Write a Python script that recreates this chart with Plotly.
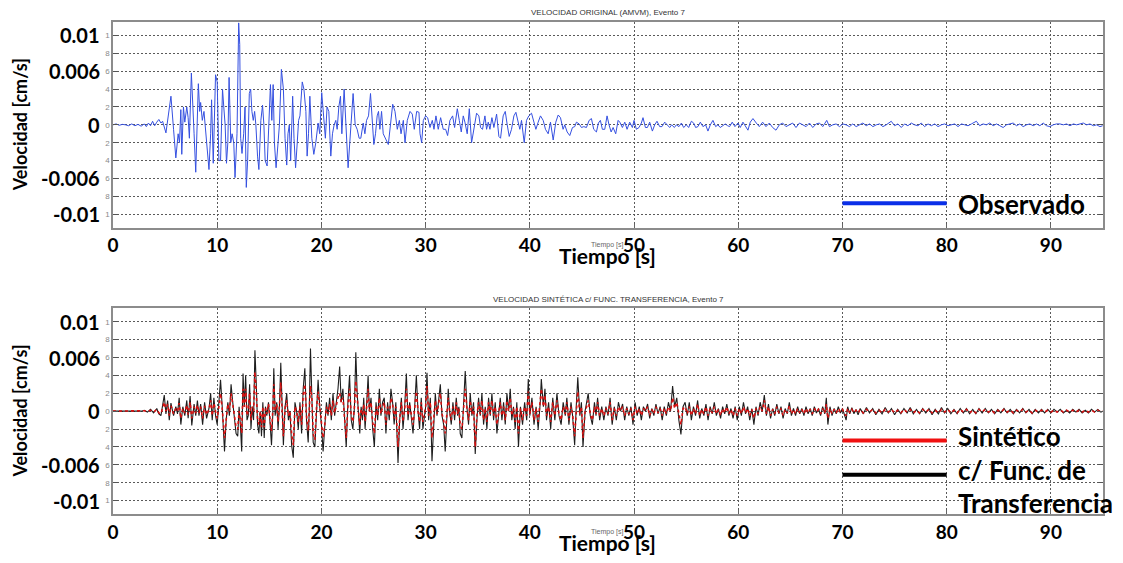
import plotly.graph_objects as go

# ---------------- data (velocity values in units of 1e-3 cm/s) ----------------
SCALE = 1e-3

t_obs = [0.0, 0.3, 0.6, 0.9, 1.2, 1.5, 1.8, 2.1, 2.4, 2.7, 3.0, 3.2, 3.4, 3.6, 3.8, 4.0, 4.2, 4.4, 4.6,
         4.76, 5.08, 5.56, 5.81, 6.03, 6.25, 6.38, 6.51, 6.60, 6.76, 6.89, 7.08, 7.21, 7.33, 7.52, 7.78, 7.94,
         8.19, 8.32, 8.41, 8.57, 8.73, 8.98, 9.21, 9.37, 9.46, 9.62, 9.84, 10.0, 10.06, 10.16, 10.32, 10.51,
         10.63, 10.76, 10.89, 11.02, 11.14, 11.30, 11.43, 11.59, 11.71, 11.90, 12.06, 12.16, 12.25, 12.38,
         12.54, 12.67, 12.79, 12.92, 13.08, 13.21, 13.33, 13.46, 13.59, 13.71, 13.87, 14.0, 14.19, 14.35,
         14.48, 14.60, 14.79, 14.98, 15.11, 15.24, 15.37, 15.49, 15.65, 15.84, 15.97, 16.16, 16.35, 16.51,
         16.67, 16.79, 16.92, 17.05, 17.24, 17.37, 17.52, 17.68, 17.81, 17.94, 18.16, 18.32, 18.51, 18.63,
         18.76, 18.89, 19.08, 19.27, 19.46, 19.68, 19.84,
         20.03, 20.22, 20.38, 20.54, 20.71, 20.90, 21.06, 21.22, 21.38, 21.51, 21.67, 21.83, 21.96, 22.18,
         22.34, 22.56, 22.72, 22.88, 23.04, 23.24, 23.43, 23.62, 23.78, 24.01, 24.17, 24.33, 24.52, 24.71,
         24.87, 25.03, 25.19, 25.35, 25.48, 25.61, 25.77, 25.93,
         26.42, 26.65, 26.84, 27.06, 27.28, 27.48, 27.64, 27.86, 28.02, 28.24, 28.50, 28.72, 28.91, 29.14,
         29.36, 29.46, 29.62, 29.78, 30.0, 30.19, 30.42, 30.64, 30.80, 30.99, 31.21, 31.44, 31.69, 31.92,
         32.11, 32.33, 32.59, 32.78, 33.04, 33.23, 33.42, 33.61, 33.77, 33.99, 34.19, 34.41, 34.63, 34.89,
         35.11, 35.27, 35.46, 35.69, 35.85, 36.01, 36.17, 36.36, 36.55, 36.81, 37.03, 37.19, 37.44, 37.64,
         37.83, 38.02, 38.24, 38.47, 38.66, 38.85, 39.04, 39.20, 39.46, 39.68, 39.90, 40.16, 40.38, 40.58,
         40.80, 41.02, 41.28, 41.50, 41.76, 41.98, 42.24, 42.49, 42.72, 42.94, 43.19, 43.35, 43.58, 43.83,
         44.09, 44.31, 44.47, 44.73, 44.95, 45.18, 45.43, 45.69, 45.91, 46.13, 46.39, 46.58, 46.77, 46.96,
         47.19, 47.41, 47.60, 47.80, 47.99, 48.24, 48.47, 48.63, 48.88, 49.11, 49.33, 49.58, 49.84, 50.0,
         50.22, 50.48, 50.70, 50.86, 51.09, 51.28, 51.50, 51.76, 51.98, 52.20, 52.46, 52.68, 52.94, 53.16,
         53.42, 53.61, 53.87, 54.06, 54.31, 54.54, 54.76, 55.02, 55.24, 55.50, 55.72, 55.91, 56.13, 56.36,
         56.61, 56.87, 57.09, 57.32, 57.57, 57.83, 58.05, 58.27, 58.53, 58.75, 58.98, 59.17, 59.42, 59.68,
         59.97, 60.19, 60.45, 60.70, 60.93, 61.15, 61.41, 61.73,
         62.02, 62.34, 62.66, 62.98, 63.30, 63.62, 63.94, 64.26, 64.58, 64.90, 65.22, 65.54, 65.87, 66.19,
         66.51, 66.83, 67.15, 67.47, 67.79, 68.11, 68.49, 68.75, 69.07, 69.39, 69.71,
         70.03, 70.35, 70.67, 70.99, 71.31, 71.63, 71.96, 72.28, 72.60, 72.92, 73.24, 73.56, 73.88, 74.20,
         74.68, 75.0, 75.32, 75.64, 75.96, 76.28, 76.60, 76.92, 77.24, 77.56, 77.88, 78.21, 78.53, 78.85,
         79.17, 79.49, 79.81, 80.13, 80.45, 80.77, 81.09, 81.41, 81.73, 82.05, 82.37, 82.85, 83.17, 83.49,
         83.81, 84.13, 84.46, 84.78, 85.10, 85.42, 85.74, 86.06, 86.38, 86.70, 87.02, 87.34, 87.66, 87.98,
         88.30, 88.62, 88.94, 89.26, 89.58, 89.90, 90.22, 90.54, 90.87, 91.19, 91.51, 91.83, 92.15, 92.47,
         92.79, 93.11, 93.43, 93.75, 94.07, 94.39, 94.71, 94.97]

v_obs = [0.0, 0.1, -0.05, 0.05, 0.0, -0.1, 0.1, -0.1, 0.05, -0.15, 0.1, -0.2, 0.2, -0.1, 0.4, -0.1, 0.3, 0.6, 0.2,
         0.4, -0.9, 3.2, -0.5, -3.7, -1.0, -2.0, 1.7, -3.3, 2.0, 0.3, 2.0, 0.8, -1.5, 5.8, -1.0, -5.3,
         4.6, 1.5, 2.5, 0.5, 1.5, -2.0, -5.0, -1.0, 2.8, -4.3, 5.6, 4.8, 2.0, -4.0, -4.0, 4.0,
         2.0, 0.0, -4.3, -2.0, 5.3, -2.0, -1.0, -2.0, -5.9, -1.0, 11.4, 9.0, -1.5, -3.2,
         -1.0, 2.0, -7.0, -4.0, 3.5, 4.0, 1.5, 0.5, 1.5, 0.0, -3.5, -5.0, 0.5, 2.2,
         0.0, -4.0, -4.6, 1.0, 4.5, 0.5, 4.5, -2.0, -4.8, -2.0, 0.0, 6.2, 4.0, -1.5,
         -4.5, -1.0, 0.0, -4.0, 3.2, -1.5, -4.8, -2.0, 0.5, 1.0, 4.8, 4.0, 1.5, -3.5,
         -1.0, 3.2, -1.5, -3.3, -2.0, 0.2, -1.0,
         3.6, 1.0, -1.5, 2.0, 1.5, -3.5, -1.0, 0.0, 0.5, -0.5, 2.0, 3.2, -1.0, 4.0,
         0.5, -4.8, -2.0, 1.0, 3.5, 0.0, -0.5, -1.5, -1.5, 0.2, -1.0, 0.5, 1.0, 3.5,
         1.0, -2.2, -1.0, 1.0, 1.5, -0.5, 1.5, -1.0,
         -2.2, 0.5, 2.3, 1.5, -0.5, 0.5, -1.0, 0.5, -2.0, 0.5, 1.5, 1.2, -0.5, 1.5,
         1.4, -1.0, -2.0, 0.5, 1.0, 0.8, -0.3, 0.5, -0.5, 1.0, -0.5, 0.8, -0.5, -0.5,
         -1.2, 0.5, 1.0, -0.3, 1.8, 0.5, -0.8, 1.0, 0.3, -1.0, 1.8, -2.0, -0.5, 1.3,
         1.0, -0.3, -0.5, 1.0, -0.5, 0.3, -0.5, 0.8, -0.3, 1.2, -1.3, -1.5, 1.0, 1.5,
         0.0, -1.3, -0.5, 1.0, 1.4, 0.3, -0.5, 0.5, -2.0, 0.5, 1.0, 1.3, 0.3, -0.5,
         0.3, 1.0, 0.5, -0.5, -1.0, 0.3, -1.7, 0.3, 1.1, 0.8, -0.5, 0.0, -0.8, -1.2,
         -0.3, -0.2, 0.3, 0.1, -0.3, -0.2, -0.3, 0.5, 0.7, -0.5, -0.8, 0.2, 0.5, -0.5,
         -0.5, 1.0, 0.0, -0.8, -0.3, -1.0, 0.5, 0.3, -0.3, 0.3, -0.5, 0.3, -0.3, 0.5,
         -0.5, -0.3, 0.2, 0.8, -0.3, -0.3, 0.3, -0.7, 0.0, 0.4, -0.2, -0.2, 0.3, 0.0,
         -0.3, 0.0, -0.3, 0.0, -0.2, 0.2, -0.3, 0.0, -0.3, 0.4, 0.2, -0.3, -0.2, 0.3,
         -0.2, 0.0, -0.7, 0.0, 0.5, -0.2, 0.0, -0.3, -0.1, 0.1, -0.1, -0.2, 0.3, -0.2,
         0.2, -0.3, 0.3, -0.2, -0.6, 0.3, 0.7, 0.2,
         -0.2, 0.3, -0.2, 0.2, -0.3, -0.6, 0.0, 0.2, -0.2, 0.0, 0.2, -0.3, 0.2, 0.0,
         -0.2, 0.2, -0.3, 0.1, 0.2, -0.2, 0.5, -0.2, 0.0, 0.1, -0.2,
         0.1, 0.0, -0.2, 0.1, -0.2, 0.0, 0.2, -0.1, 0.1, -0.2, 0.0, 0.1, -0.2, 0.0,
         0.4, -0.1, 0.1, -0.3, 0.1, -0.1, 0.2, 0.0, -0.1, 0.2, -0.2, 0.1, -0.1, 0.1,
         -0.2, 0.0, 0.1, -0.1, 0.0, 0.1, -0.2, 0.1, 0.0, -0.1, 0.1, 0.4, -0.1, 0.1,
         0.0, 0.2, -0.1, 0.1, -0.1, -0.3, 0.0, 0.1, 0.2, -0.1, 0.1, -0.2, 0.0, 0.1,
         -0.1, 0.1, -0.1, 0.2, -0.1, -0.2, 0.0, 0.1, 0.1, 0.0, 0.1, -0.1, 0.1, 0.0,
         0.1, 0.2, 0.0, 0.1, -0.1, 0.0, -0.2, -0.1]

t_syn = [0, 1, 2, 2.7, 3.0, 3.3, 3.6, 3.9, 4.2, 4.4,
         4.60, 4.92, 5.08, 5.24, 5.40, 5.56, 5.81, 6.03, 6.19, 6.35,
         6.51, 6.70, 6.89, 7.08, 7.21, 7.40, 7.56, 7.78, 7.94, 8.10,
         8.25, 8.41, 8.60, 8.79, 8.98, 9.21, 9.37, 9.52, 9.68, 9.84,
         10.0, 10.16, 10.32, 10.48, 10.70, 10.86, 11.02, 11.17, 11.33, 11.49,
         11.65, 11.81, 11.97, 12.10, 12.22, 12.35, 12.48, 12.60, 12.73, 12.86,
         12.98, 13.11, 13.24, 13.37, 13.49, 13.62, 13.75, 13.87, 14.0, 14.13,
         14.25, 14.38, 14.51, 14.63, 14.76, 14.92, 15.08, 15.21, 15.33, 15.43,
         15.56, 15.71, 15.84, 15.97, 16.10, 16.22, 16.35, 16.51, 16.67, 16.83,
         16.98, 17.14, 17.30, 17.46, 17.62, 17.78, 17.94, 18.10, 18.25, 18.41,
         18.57, 18.73, 18.83, 18.95, 19.08, 19.21, 19.37, 19.52, 19.68, 19.84,
         20.0, 20.16, 20.32, 20.48, 20.63, 20.79, 20.95, 21.11, 21.27, 21.43,
         21.59, 21.75, 21.90, 22.06, 22.22, 22.38, 22.54, 22.70, 22.86, 23.02,
         23.17, 23.30, 23.43, 23.56, 23.68, 23.81, 23.94, 24.06, 24.19, 24.35,
         24.48, 24.60, 24.76, 24.92, 25.08, 25.24, 25.40, 25.56, 25.71, 25.87,
         26.03, 26.19, 26.35, 26.51, 26.67, 26.83, 26.98, 27.14, 27.35, 27.51,
         27.67, 27.83, 27.99, 28.15, 28.31, 28.47, 28.63, 28.79, 28.95, 29.11,
         29.27, 29.42, 29.58, 29.74, 30.0, 30.13, 30.29, 30.45, 30.61, 30.77,
         30.93, 31.09, 31.25, 31.41, 31.57, 31.73, 31.88, 32.04, 32.17, 32.30,
         32.46, 32.62, 32.78, 32.94, 33.07, 33.19, 33.32, 33.48, 33.64, 33.80,
         33.96, 34.12, 34.28, 34.44, 34.60, 34.76, 34.92, 35.08, 35.24, 35.40,
         35.56, 35.72, 35.88, 36.04, 36.20, 36.36, 36.52, 36.68, 36.84, 37.0,
         37.16, 37.32, 37.48, 37.64, 37.80, 37.96, 38.12, 38.27, 38.43, 38.59,
         38.75, 38.91, 39.1, 39.3, 39.5, 39.7, 39.85, 40.0, 40.2, 40.4,
         40.6, 40.8, 41.0, 41.1, 41.3, 41.45, 41.6, 41.8, 42.0, 42.2,
         42.4, 42.6, 42.8, 43.0, 43.2, 43.4, 43.55, 43.75, 43.95, 44.1,
         44.3, 44.45, 44.6, 44.8, 44.95, 45.1, 45.3, 45.45, 45.6, 45.8,
         46.0, 46.2, 46.35, 46.5, 46.7, 46.9, 47.1, 47.3, 47.5, 47.7,
         47.9, 48.1, 48.3, 48.5, 48.7, 48.9, 49.1, 49.3, 49.5, 49.7,
         49.9, 50.1, 50.3, 50.5, 50.7, 50.9, 51.1, 51.3, 51.5, 51.7,
         51.9, 52.1, 52.3, 52.5, 52.7, 52.9, 53.1, 53.3, 53.5, 53.7,
         53.9, 54.1, 54.3, 54.5, 54.7, 54.9, 55.1, 55.3, 55.5, 55.7,
         55.9, 56.1, 56.3, 56.5, 56.7, 56.9, 57.1, 57.3, 57.5, 57.7,
         57.9, 58.1, 58.3, 58.5, 58.7, 58.9, 59.1, 59.3, 59.5, 59.7,
         59.9, 60.1, 60.3, 60.5, 60.7, 60.9, 61.1, 61.3, 61.5, 61.7,
         61.9, 62.1, 62.3, 62.5, 62.7, 62.9, 63.1, 63.3, 63.5, 63.7,
         63.9, 64.1, 64.3, 64.5, 64.7, 64.9, 65.1, 65.3, 65.5, 65.7,
         65.9, 66.1, 66.3, 66.5, 66.7, 66.9, 67.1, 67.3, 67.5, 67.7,
         67.9, 68.1, 68.3, 68.45, 68.6, 68.8, 69.0, 69.2, 69.4, 69.6,
         69.8, 70.0, 70.2, 70.35, 70.5, 70.7, 70.9, 71.1, 71.3, 71.5,
         71.7, 72.0, 72.3, 72.6, 72.9, 73.2, 73.5, 73.8, 74.1, 74.4,
         74.7, 75.0, 75.3, 75.6, 75.9, 76.2, 76.5, 76.8, 77.1, 77.4,
         77.7, 78.0, 78.3, 78.6, 78.9, 79.2, 79.5, 79.8, 80.1, 80.4,
         80.7, 81.0, 81.3, 81.6, 81.9, 82.2, 82.5, 82.8, 83.1, 83.4,
         83.7, 84.0, 84.3, 84.6, 84.9, 85.2, 85.5, 85.8, 86.1, 86.4,
         86.7, 87.0, 87.3, 87.6, 87.9, 88.2, 88.5, 88.8, 89.1, 89.4,
         89.7, 90.0, 90.3, 90.6, 90.9, 91.2, 91.5, 91.8, 92.1, 92.4,
         92.7, 93.0, 93.3, 93.6, 93.9, 94.2, 94.5, 94.8, 95.0]

v_tf = [0, 0, 0, 0, 0.1, -0.1, 0.2, -0.2, 0.3, -0.3,
        -0.5, 1.8, -0.3, 1.2, -1.0, 0.9, -0.5, 0.5, -0.3, 1.5,
        -1.5, 0.5, -0.5, 1.2, -0.8, 1.7, -1.6, 0.8, -0.5, 1.2,
        -0.5, 0.8, -1.5, 1.0, -0.8, 0.3, 2.0, -1.0, 1.5, -0.5,
        -1.5, 0.8, 3.5, 0.5, -4.5, -1.0, 1.0, -0.5, 3.0, 1.0,
        -0.5, -2.5, -2.8, 0.5, -1.5, -4.5, 4.2, 0.5, 4.0, -1.0,
        -0.5, 3.0, -2.0, 0.5, -1.0, 6.8, 3.0, -1.5, -2.5, 0.0,
        -2.8, 1.0, -3.0, 0.5, -0.5, 1.0, -1.5, -3.8, -0.5, 4.8,
        -0.5, 1.0, -2.0, 0.5, 5.4, 1.0, -3.8, 0.5, 2.0, -1.0,
        0.0, -3.8, -5.2, 1.0, 0.0, -2.0, 1.0, -2.5, 2.5, 4.8,
        -1.0, -3.5, 0.0, 7.0, 2.0, -3.5, -4.0, 0.5, 3.5, 0.5,
        -1.5, -4.5, -2.0, 1.0, -0.5, 1.5, -1.0, 2.0, -0.5, 1.0,
        2.5, 5.0, 1.0, 2.5, -1.0, -4.0, 1.0, 4.0, -1.0, -2.0,
        0.5, 6.6, 2.0, -1.0, -2.5, 0.5, -1.0, 1.5, -2.0, 1.0,
        4.0, 0.0, 1.5, -2.0, -4.0, 1.0, -1.0, 2.5, -0.5, 1.0,
        1.5, -2.5, 1.0, -1.0, 2.5, 1.0, -1.5, 1.0, -5.8, -1.0,
        1.5, -2.0, 0.5, 4.2, -1.0, 1.0, -0.5, -2.5, 0.5, 4.0,
        0.0, -2.0, 1.5, -2.0, 0.5, 4.3, -1.0, 1.5, -5.6, -1.0,
        2.0, -0.5, 1.0, 3.0, -0.5, -1.5, -4.5, 0.5, 2.5, 0.0,
        -1.5, 1.0, -1.0, 1.5, -0.5, 0.5, -2.5, -3.0, 1.0, 4.5,
        0.5, -1.5, 2.0, -0.5, 1.0, -4.8, -1.0, 1.5, -0.5, 2.0,
        -1.5, 0.5, -2.0, 1.5, -0.5, 2.0, -1.0, 1.0, -2.5, 0.0,
        1.5, -1.0, 1.0, -1.5, 2.0, 0.0, 2.5, -1.0, 0.5, -2.0,
        1.0, -4.0, 0.5, -1.5, 1.0, -1.0, 3.6, -0.5, 1.5, -1.5,
        0.5, -2.0, 1.0, 3.6, 0.5, 2.5, -1.0, 1.0, -2.0, 1.5,
        -1.0, 2.0, -0.5, -1.5, 1.0, -0.5, 1.5, -1.5, 1.0, -0.5,
        -3.8, 0.5, 3.8, -0.5, 1.0, -4.0, 0.0, 1.0, 2.0, -0.5,
        -1.5, 1.0, -0.5, 1.5, -1.0, 0.5, -1.0, 0.5, -0.5, 1.5,
        -1.5, 0.5, -1.0, 1.0, 0.0, 0.8, -1.0, 0.5, -0.5, 0.5,
        -1.5, 1.0, -0.5, 0.5, -1.0, 0.5, 0.0, 0.8, -0.8, 0.3,
        -0.5, 0.8, -0.3, 0.5, -1.0, 0.5, -0.5, 1.0, 0.0, 2.8,
        0.5, 1.5, -1.0, -2.6, 0.5, 1.0, -0.5, 1.0, -1.0, 0.5,
        -0.5, 1.2, -0.8, 0.3, -0.5, 0.8, -1.0, 0.5, -0.3, 1.0,
        -0.5, 0.3, -0.8, 0.5, -0.3, 0.8, -0.5, 0.3, -0.8, 0.5,
        -1.0, 0.5, -0.5, 1.0, -0.3, 0.5, -1.0, 0.3, -1.5, 0.5,
        -0.5, 1.0, 0.0, 1.8, -0.5, 0.8, -0.8, 0.3, -0.5, 0.8,
        -0.3, 0.5, -0.8, 0.3, -0.3, 1.0, -0.5, 0.3, -0.5, 0.5,
        -0.3, 0.3, -0.5, 0.5, -0.3, 0.3, -0.5, 0.5, -0.2, 0.3,
        -0.5, 0.5, -0.3, 1.5, -1.5, 0.5, -0.5, 0.3, -0.3, 0.5,
        -0.2, 0.3, -0.5, -1.0, 0.5, -0.3, 0.4, -0.3, 0.2, -0.4,
        0.3, -0.3, 0.4, -0.2, 0.3, -0.4, 0.2, -0.3, 0.4, -0.2,
        0.3, -0.4, 0.2, -0.3, 0.3, -0.2, 0.4, -0.3, 0.2, -0.3,
        0.3, -0.2, 0.3, -0.4, 0.2, -0.3, 0.4, -0.2, 0.3, -0.3,
        0.2, -0.3, 0.3, -0.2, 0.3, -0.3, 0.2, -0.3, 0.3, -0.2,
        0.3, -0.2, 0.2, -0.3, 0.2, -0.2, 0.3, -0.2, 0.2, -0.3,
        0.2, -0.2, 0.3, -0.2, 0.2, -0.3, 0.2, -0.2, 0.2, -0.2,
        0.2, -0.2, 0.2, -0.1, 0.2, -0.2, 0.1, -0.2, 0.2, -0.1,
        0.2, -0.2, 0.1, -0.2, 0.2, -0.1, 0.2, -0.1, 0.0]

v_syn = [0, 0, 0, 0, 0.05, -0.05, 0.1, -0.1, 0.2, -0.2,
         -0.3, 1.0, 0.0, 0.8, -0.5, 0.6, -0.3, 0.3, 0.0, 0.9,
         -0.8, 0.3, -0.2, 0.7, -0.4, 1.0, -0.8, 0.5, -0.2, 0.7,
         -0.2, 0.5, -0.8, 0.6, -0.4, 0.2, 1.2, -0.5, 0.9, 0.0,
         -0.8, 0.5, 2.0, 0.3, -3.0, -1.0, 0.8, 0.0, 2.0, 0.8,
         -0.5, -1.8, -2.0, 0.0, -1.0, -2.5, 2.5, 0.5, 2.5, -0.5,
         0.0, 2.0, -1.0, 0.5, 0.0, 4.4, 2.0, -0.8, -1.5, 0.0,
         -1.8, 0.5, -1.8, 0.3, -0.3, 0.8, -1.0, -2.2, 0.0, 3.0,
         0.0, 0.8, -1.2, 0.5, 3.2, 0.8, -2.8, 0.3, 1.2, -0.5,
         0.0, -2.5, -3.8, 0.5, 0.0, -1.2, 0.5, -1.5, 1.8, 3.0,
         -0.5, -2.2, 0.0, 2.8, 1.5, -2.5, -3.2, 0.3, 2.2, 0.3,
         -1.0, -3.0, -1.5, 0.5, -0.3, 0.8, -0.5, 1.2, -0.2, 0.8,
         1.5, 2.0, 1.0, 1.5, -0.8, -3.0, 0.5, 2.5, -0.5, -1.2,
         0.5, 3.4, 1.5, -0.5, -1.5, 0.3, -0.5, 0.8, -1.2, 0.5,
         2.5, 0.0, 1.0, -1.2, -2.5, 0.5, -0.5, 1.5, -0.3, 0.5,
         1.0, -1.5, 0.5, -0.5, 1.5, 0.8, -0.8, 0.5, -4.0, -0.8,
         1.0, -1.2, 0.3, 2.5, -0.5, 0.8, -0.3, -1.5, 0.3, 2.2,
         0.0, -1.2, 1.0, -1.2, 0.5, 2.8, -0.5, 1.0, -3.0, -0.5,
         1.2, -0.3, 0.8, 2.0, -0.3, -1.0, -2.5, 0.3, 1.5, 0.0,
         -1.0, 0.5, -0.5, 1.0, -0.3, 0.3, -1.5, -2.0, 0.5, 2.5,
         0.3, -1.0, 1.2, -0.3, 0.5, -4.0, -0.5, 1.0, -0.3, 1.2,
         -1.0, 0.3, -1.2, 1.0, -0.3, 1.2, -0.5, 0.5, -1.5, 0.0,
         1.0, -0.5, 0.5, -1.0, 1.2, 0.0, 1.5, -0.5, 0.3, -1.2,
         0.5, -2.5, 0.3, -1.0, 0.5, -0.5, 2.2, -0.3, 1.0, -1.0,
         0.3, -1.2, 0.8, 2.5, 0.5, 1.8, -0.5, 0.5, -1.2, 1.0,
         -0.5, 1.2, -0.3, -1.0, 0.5, -0.3, 1.0, -1.0, 0.5, -0.3,
         -2.8, 0.3, 2.2, -0.3, 0.5, -3.0, 0.0, 0.5, 1.2, -0.3,
         -1.0, 0.5, -0.3, 1.0, -0.5, 0.3, -0.5, 0.3, -0.3, 1.0,
         -1.0, 0.3, -0.5, 0.5, 0.0, 0.5, -0.5, 0.3, -0.3, 0.3,
         -1.0, 0.5, -0.3, 0.3, -0.5, 0.3, 0.0, 0.5, -0.5, 0.2,
         -0.3, 0.5, -0.2, 0.3, -0.5, 0.3, -0.3, 0.5, 0.0, 1.5,
         0.3, 1.0, -0.5, -1.5, 0.3, 0.5, -0.3, 0.5, -0.5, 0.3,
         -0.3, 0.8, -0.5, 0.2, -0.3, 0.5, -0.5, 0.3, -0.2, 0.5,
         -0.3, 0.2, -0.5, 0.3, -0.2, 0.5, -0.3, 0.2, -0.5, 0.3,
         -0.5, 0.3, -0.3, 0.5, -0.2, 0.3, -0.5, 0.2, -0.8, 0.3,
         -0.3, 0.5, 0.0, 1.2, -0.3, 0.5, -0.5, 0.2, -0.3, 0.5,
         -0.2, 0.3, -0.5, 0.2, -0.2, 0.6, -0.3, 0.2, -0.3, 0.3,
         -0.2, 0.2, -0.3, 0.3, -0.2, 0.2, -0.3, 0.3, -0.1, 0.2,
         -0.3, 0.3, -0.2, 0.8, -0.8, 0.3, -0.3, 0.2, -0.2, 0.3,
         -0.1, 0.2, -0.3, -0.5, 0.3, -0.2, 0.2, -0.2, 0.1, -0.2,
         0.2, -0.2, 0.2, -0.1, 0.2, -0.2, 0.1, -0.2, 0.2, -0.1,
         0.2, -0.2, 0.1, -0.2, 0.2, -0.1, 0.2, -0.2, 0.1, -0.2,
         0.2, -0.1, 0.2, -0.2, 0.1, -0.2, 0.2, -0.1, 0.2, -0.2,
         0.1, -0.2, 0.2, -0.1, 0.2, -0.2, 0.1, -0.2, 0.2, -0.1,
         0.2, -0.1, 0.1, -0.2, 0.1, -0.1, 0.2, -0.1, 0.1, -0.2,
         0.1, -0.1, 0.2, -0.1, 0.1, -0.2, 0.1, -0.1, 0.1, -0.1,
         0.1, -0.1, 0.1, -0.1, 0.1, -0.1, 0.1, -0.1, 0.1, -0.1,
         0.1, -0.1, 0.1, -0.1, 0.1, -0.1, 0.1, -0.1, 0.0]

y_grid = [-0.01, -0.008, -0.006, -0.004, -0.002, 0, 0.002, 0.004, 0.006, 0.008, 0.01]
y_small_labels = ["1", "8", "6", "4", "2", "0", "2", "4", "6", "8", "1"]
y_big_vals = [0.01, 0.006, 0, -0.006, -0.01]
y_big_labels = ["0.01", "0.006", "0", "-0.006", "-0.01"]
x_ticks = [0, 10, 20, 30, 40, 50, 60, 70, 80, 90]

title_top = "VELOCIDAD ORIGINAL (AMVM), Evento 7"
title_bot = "VELOCIDAD SINTÉTICA c/ FUNC. TRANSFERENCIA, Evento 7"

# ---------------- figure ----------------
BIG = "Lato, 'Open Sans', sans-serif"
SMALL = "Liberation Sans, Arial, sans-serif"
GRID_DASH = "2px,2px"

fig = go.Figure()
fig.add_trace(go.Scatter(x=t_obs, y=[v * SCALE for v in v_obs], mode="lines",
                         line=dict(color="#3550e0", width=1), xaxis="x", yaxis="y",
                         showlegend=False, hoverinfo="skip"))
fig.add_trace(go.Scatter(x=t_syn, y=[v * SCALE for v in v_tf], mode="lines",
                         line=dict(color="#1e1e1e", width=1.1), xaxis="x2", yaxis="y2",
                         showlegend=False, hoverinfo="skip"))
fig.add_trace(go.Scatter(x=t_syn, y=[v * SCALE for v in v_syn], mode="lines",
                         line=dict(color="#d81010", width=1.6, dash="dot"), xaxis="x2", yaxis="y2",
                         showlegend=False, hoverinfo="skip"))

xcommon = dict(range=[0, 95], tickvals=x_ticks, ticktext=[str(v) for v in x_ticks],
               tickfont=dict(family=BIG, size=19, color="black", weight="bold"),
               showgrid=True, gridcolor="#5a5a5a", griddash=GRID_DASH, gridwidth=1,
               showline=True, linecolor="#8c8c8c", linewidth=1.5, mirror=True,
               ticks="inside", ticklen=4, tickcolor="#666", zeroline=False)
ycommon = dict(range=[-0.0115, 0.0115], tickvals=y_grid, ticktext=y_small_labels,
               tickfont=dict(family=SMALL, size=8, color="#8a8a8a"),
               showgrid=True, gridcolor="#5a5a5a", griddash=GRID_DASH, gridwidth=1,
               showline=True, linecolor="#8c8c8c", linewidth=1.5, mirror="allticks",
               ticks="inside", ticklen=5, tickcolor="#555", zeroline=False)

# the page body has an 8px margin; the figure is sized so the plot areas land where the reference has them
fig.update_layout(
    width=1115, height=547,
    margin=dict(l=105, r=20, t=13, b=34),
    paper_bgcolor="white", plot_bgcolor="white",
    xaxis=dict(domain=[0, 1], anchor="y", **xcommon),
    yaxis=dict(domain=[0.582, 1.0], anchor="x", **ycommon),
    xaxis2=dict(domain=[0, 1], anchor="y2", **xcommon),
    yaxis2=dict(domain=[0.0, 0.418], anchor="x2", **ycommon),
    showlegend=False,
)

ann = []
for yref in ["y", "y2"]:
    for val, lab in zip(y_big_vals, y_big_labels):
        ann.append(dict(x=0, xref="paper", y=val, yref=yref, text=lab, showarrow=False,
                        xanchor="right", yanchor="middle", xshift=-11,
                        font=dict(family=BIG, size=20, color="black", weight="bold")))

# y-axis titles
for yc in [0.792, 0.21]:
    ann.append(dict(x=-0.094, xref="paper", y=yc, yref="paper", text="Velocidad [cm/s]",
                    textangle=-90, showarrow=False, xanchor="center", yanchor="middle",
                    font=dict(family=BIG, size=18, color="black", weight="bold")))
# titles
ann.append(dict(x=0.5, xref="paper", y=1.02, yref="paper", text=title_top, showarrow=False,
                yanchor="middle", font=dict(family=SMALL, size=8, color="#333")))
ann.append(dict(x=0.5, xref="paper", y=0.4366, yref="paper", text=title_bot, showarrow=False,
                yanchor="middle", font=dict(family=SMALL, size=8, color="#333")))
# x-axis titles (small original + big overlay)
for ys, yb in [(0.546, 0.526), (-0.036, -0.058)]:
    ann.append(dict(x=0.499, xref="paper", y=ys, yref="paper", text="Tiempo [s]", showarrow=False,
                    yanchor="middle", font=dict(family=SMALL, size=7, color="#666")))
    ann.append(dict(x=0.499, xref="paper", y=yb, yref="paper", text="Tiempo [s]", showarrow=False,
                    yanchor="middle", font=dict(family=BIG, size=21, color="black", weight="bold")))

# legend texts
ann.append(dict(x=80.9, xref="x", y=-0.00887, yref="y", text="Observado", showarrow=False,
                xanchor="left", yanchor="middle",
                font=dict(family=BIG, size=26, color="black", weight="bold")))
for txt, yv in [("Sintético", -0.00274), ("c/ Func. de", -0.00657), ("Transferencia", -0.0103)]:
    ann.append(dict(x=80.9, xref="x2", y=yv, yref="y2", text=txt, showarrow=False,
                    xanchor="left", yanchor="middle",
                    font=dict(family=BIG, size=26, color="black", weight="bold")))
fig.update_layout(annotations=ann)

# legend swatches
fig.add_shape(type="line", xref="x", yref="y", x0=70, x1=80, y0=-0.00876, y1=-0.00876,
              line=dict(color="#0a2fe8", width=4))
fig.add_shape(type="line", xref="x2", yref="y2", x0=70, x1=80, y0=-0.00328, y1=-0.00328,
              line=dict(color="#f01010", width=4))
fig.add_shape(type="line", xref="x2", yref="y2", x0=70, x1=80, y0=-0.00712, y1=-0.00712,
              line=dict(color="#000000", width=4))

fig.write_html("out.html")
